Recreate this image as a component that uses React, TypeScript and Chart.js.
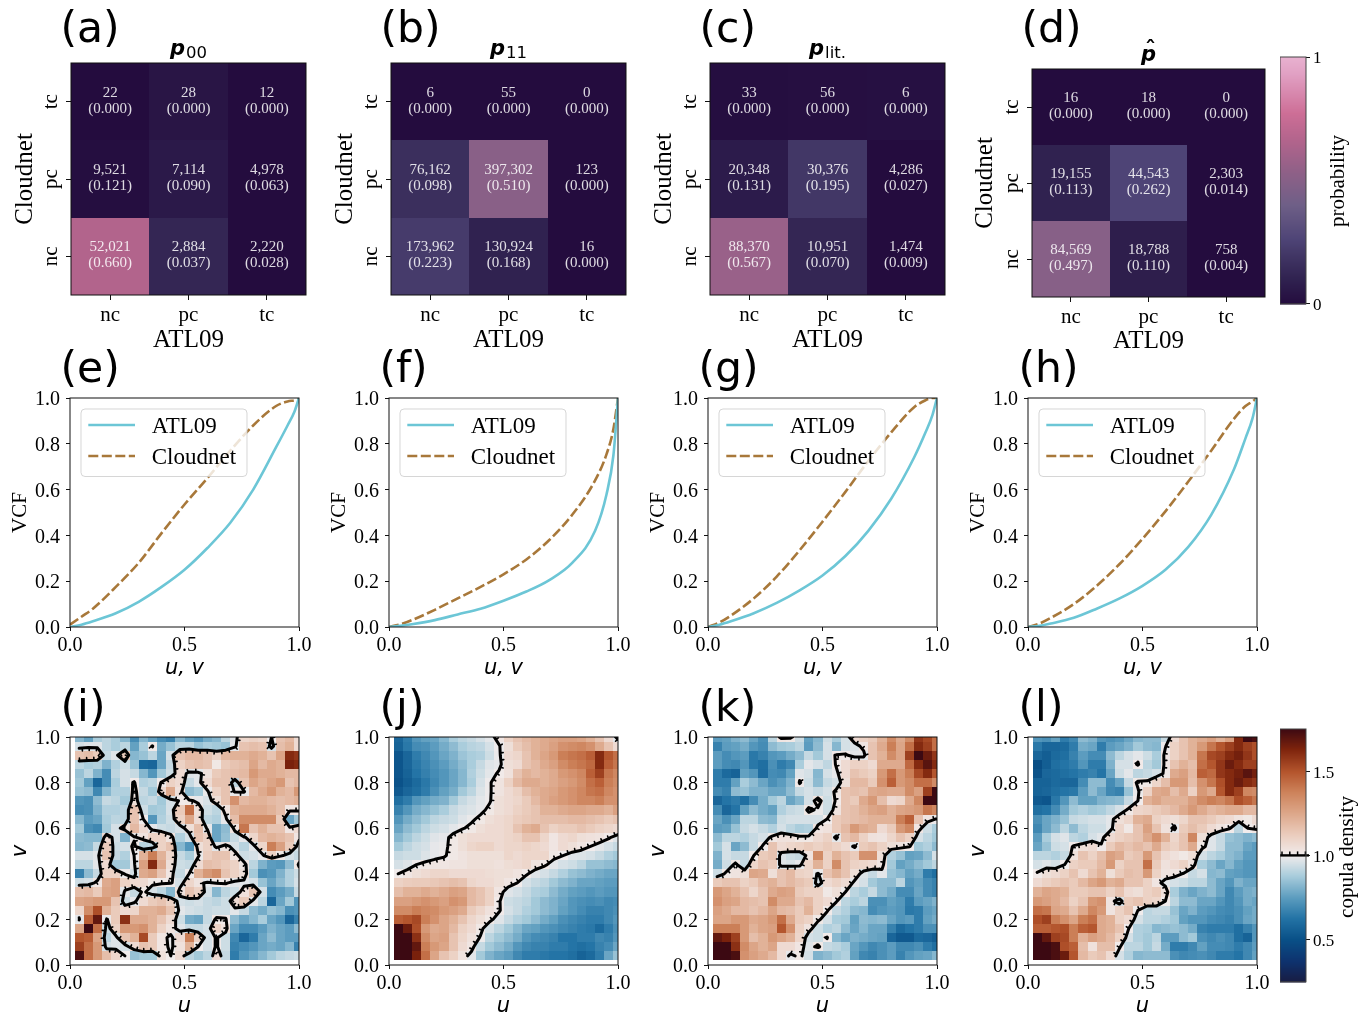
import React, { useEffect, useRef } from "react";
import { Chart, registerables } from "chart.js";
Chart.register(...registerables);

const SERIF = '"Liberation Serif"';
const SANS = '"DejaVu Sans"';

// ---------- confusion matrices (rows top to bottom: tc, pc, nc; columns nc, pc, tc)
const CATEGORIES = ["nc", "pc", "tc"];
const countsA = [[22, 28, 12], [9521, 7114, 4978], [52021, 2884, 2220]];
const countsB = [[6, 55, 0], [76162, 397302, 123], [173962, 130924, 16]];
const countsC = [[33, 56, 6], [20348, 30376, 4286], [88370, 10951, 1474]];
const countsD = [[16, 18, 0], [19155, 44543, 2303], [84569, 18788, 758]];
const probsA = [[0, 0, 0], [0.121, 0.09, 0.063], [0.66, 0.037, 0.028]];
const probsB = [[0, 0, 0], [0.098, 0.51, 0], [0.223, 0.168, 0]];
const probsC = [[0, 0, 0], [0.131, 0.195, 0.027], [0.567, 0.07, 0.009]];
const probsD = [[0, 0, 0], [0.113, 0.262, 0.014], [0.497, 0.11, 0.004]];
const shadeA = [[0, 0.04, 0], [0.01, 0.06, 0], [0.66, 0.12, 0]];
const shadeB = [[0, 0, 0], [0.16, 0.51, 0], [0.22, 0.1, 0]];
const shadeC = [[0.01, 0.015, 0.02], [0.07, 0.2, 0], [0.57, 0.12, 0]];
const shadeD = [[0, 0, 0], [0.1, 0.26, 0], [0.5, 0.08, 0]];

// ---------- VCF curves
const uGrid = [0, 0.05, 0.1, 0.2, 0.3, 0.4, 0.5, 0.6, 0.7, 0.8, 0.9, 0.95, 0.98, 1];
const vcfAtlE = [0, 0.01, 0.025, 0.06, 0.11, 0.175, 0.25, 0.345, 0.455, 0.6, 0.785, 0.88, 0.94, 1];
const vcfCloudE = [0.01, 0.045, 0.08, 0.175, 0.28, 0.41, 0.535, 0.65, 0.77, 0.88, 0.965, 0.985, 0.99, 0.995];
const vcfAtlF = [0, 0.005, 0.012, 0.03, 0.055, 0.08, 0.115, 0.155, 0.205, 0.28, 0.42, 0.58, 0.75, 1];
const vcfCloudF = [0, 0.012, 0.03, 0.075, 0.125, 0.175, 0.23, 0.295, 0.38, 0.49, 0.64, 0.755, 0.865, 1];
const vcfAtlG = [0, 0.01, 0.025, 0.06, 0.105, 0.16, 0.225, 0.31, 0.42, 0.56, 0.74, 0.85, 0.925, 1];
const vcfCloudG = [0, 0.02, 0.05, 0.125, 0.22, 0.335, 0.46, 0.59, 0.725, 0.85, 0.96, 0.99, 1, 1];
const vcfAtlH = [0, 0.005, 0.015, 0.04, 0.08, 0.125, 0.18, 0.25, 0.35, 0.49, 0.69, 0.825, 0.91, 1];
const vcfCloudH = [0, 0.015, 0.04, 0.1, 0.18, 0.275, 0.385, 0.505, 0.635, 0.77, 0.91, 0.965, 0.985, 1];

// ---------- copula density levels read from the cells (percent-like reading), rows from v=1.0 down to v=0.04, columns u=0.04..1.0
const copulaI = [
  [70,60,80,85,80,70,50,70,60,50,45,70,60,55,65,70,85,95,110,112,110,100,118,122,108],
  [92,95,95,85,80,85,60,80,101,65,75,85,85,75,80,78,75,96,118,120,118,92,120,125,108],
  [118,120,115,88,95,115,70,75,85,62,92,118,122,122,118,112,122,125,125,128,125,118,130,172,168],
  [85,80,82,68,82,90,75,32,30,62,88,112,118,120,118,102,115,118,120,130,122,128,125,175,172],
  [75,85,68,50,85,92,88,70,55,78,90,108,95,96,105,115,118,120,122,135,128,128,125,122,122],
  [78,60,30,50,80,92,101,82,85,101,112,108,88,96,108,118,118,85,118,130,125,130,135,118,122],
  [75,72,48,70,82,82,103,88,78,108,128,105,72,78,98,112,118,98,98,122,128,135,125,122,135],
  [55,52,72,88,85,78,106,85,88,78,92,101,102,97,93,106,118,138,122,125,125,122,120,122,125],
  [50,52,68,82,82,85,118,90,78,80,92,115,150,106,90,85,104,125,128,128,128,125,120,103,102],
  [70,58,62,80,85,85,118,100,55,82,90,112,130,108,85,82,97,120,140,140,140,140,115,62,78],
  [78,52,48,78,92,106,122,108,96,90,88,92,106,120,97,62,72,104,148,118,125,118,118,103,108],
  [72,70,70,108,92,68,98,104,112,112,104,82,92,118,112,62,74,88,97,110,122,125,122,118,103],
  [70,72,88,115,90,92,102,84,86,112,118,70,55,106,112,96,104,93,84,96,110,145,132,115,92],
  [92,92,96,118,88,82,100,125,145,125,110,88,80,98,114,118,118,104,90,92,97,112,102,92,88],
  [85,85,96,108,78,78,97,132,172,128,106,90,88,108,120,118,115,112,103,85,68,58,56,72,102],
  [45,72,88,112,112,99,92,128,132,118,103,88,100,125,135,140,118,112,106,78,52,56,68,82,90],
  [90,92,103,128,132,112,108,108,102,101,101,92,110,104,96,101,101,96,96,92,75,62,72,82,92],
  [120,122,115,130,132,96,88,102,92,85,70,105,118,112,92,70,85,90,105,118,92,50,58,65,88],
  [130,132,135,135,118,90,97,108,115,118,112,92,90,92,88,85,90,108,115,96,85,30,62,78,55],
  [110,140,160,125,115,108,110,125,125,128,118,96,92,90,88,90,90,96,88,72,65,75,70,52,55],
  [97,155,180,98,115,170,128,128,125,118,108,90,65,62,88,102,101,72,62,70,80,62,55,30,45],
  [130,190,150,90,112,135,135,138,125,112,104,95,88,88,92,112,105,62,50,50,58,68,62,58,72],
  [158,155,130,85,95,118,125,162,115,103,97,108,145,112,92,101,90,48,30,42,62,72,62,58,58],
  [165,150,135,92,95,92,108,118,115,103,98,105,125,100,92,101,90,45,50,55,62,65,62,70,45],
  [185,150,135,120,110,100,75,78,78,105,100,108,85,78,85,108,88,42,55,62,70,78,85,88,90],
];
const copulaJ = [
  [30,42,55,60,62,70,80,85,88,92,96,103,112,118,122,125,128,130,132,132,130,125,118,108,96],
  [28,40,50,52,58,65,72,80,84,86,92,99,106,115,120,125,128,132,138,140,142,138,128,118,108],
  [20,30,42,48,55,62,68,76,80,82,90,98,108,110,118,125,130,135,145,148,150,155,172,158,150],
  [20,30,40,46,52,58,65,72,80,88,95,97,106,108,118,122,128,132,140,145,148,152,172,155,148],
  [20,28,38,44,50,55,62,70,82,90,96,101,105,118,125,122,125,128,135,138,142,155,165,148,142],
  [18,25,32,40,48,55,62,70,80,92,99,104,112,122,128,128,125,128,132,135,140,150,155,145,140],
  [22,30,35,42,52,60,66,78,85,94,99,104,108,112,120,125,128,130,135,138,142,148,150,142,138],
  [35,42,55,60,65,68,78,88,92,96,99,106,108,110,115,122,128,132,135,138,142,142,145,138,138],
  [45,55,65,70,75,80,88,92,94,97,102,106,108,112,115,118,125,125,128,130,130,128,128,125,132],
  [55,65,72,78,85,88,90,95,98,102,106,108,110,114,116,118,120,120,120,122,122,120,118,115,118],
  [62,72,78,85,90,92,96,99,102,106,108,108,110,118,125,128,118,112,115,115,118,115,112,110,108],
  [70,78,85,90,95,97,102,106,108,108,108,108,110,112,118,118,110,103,108,110,106,105,104,101,95],
  [78,85,90,92,97,98,102,106,110,112,112,108,110,110,112,110,108,103,108,106,103,100,96,92,88],
  [88,90,90,94,97,99,102,104,106,106,106,106,110,108,110,110,110,102,100,95,94,92,88,82,78],
  [92,95,100,102,103,103,104,104,106,106,106,105,107,108,110,104,101,96,92,90,85,75,75,72,70],
  [100,103,106,108,110,110,108,108,108,108,107,106,106,104,101,95,92,88,82,75,72,68,65,62,62],
  [112,114,115,115,116,118,120,118,110,108,108,106,103,100,92,88,85,78,72,68,62,62,60,58,58],
  [120,125,125,128,125,128,132,130,122,118,112,103,95,92,88,82,80,72,65,60,58,55,58,55,55],
  [132,132,135,138,135,132,138,135,122,118,112,101,90,88,85,78,72,68,62,55,52,50,52,48,50],
  [140,140,145,142,140,135,132,128,115,110,105,101,92,88,82,78,72,68,60,55,50,45,45,48,52],
  [155,158,162,145,138,130,125,118,110,106,102,95,88,82,78,72,65,60,52,48,45,42,42,48,55],
  [195,178,160,135,128,130,122,112,108,102,92,85,78,70,62,60,55,52,48,45,42,40,32,42,52],
  [225,205,170,140,130,132,118,110,105,99,85,78,72,65,55,50,48,45,38,38,42,42,48,45,55],
  [240,215,180,145,135,130,118,108,103,88,78,72,65,55,48,45,45,42,42,38,35,38,45,50,62],
  [250,235,175,150,130,118,112,104,96,78,68,62,58,48,42,42,40,38,38,35,28,32,42,62,75],
];
const copulaK = [
  [58,60,68,72,62,52,85,103,102,90,60,70,90,80,92,108,112,115,125,140,128,140,168,162,150],
  [45,58,60,65,55,50,72,78,80,85,58,72,92,70,92,94,103,118,128,145,130,150,172,165,150],
  [58,50,55,58,40,45,55,58,65,72,88,78,92,101,101,96,96,118,125,140,130,165,190,178,168],
  [58,50,48,55,40,35,52,42,48,80,96,92,86,101,108,112,112,108,128,128,128,152,172,182,172],
  [42,32,28,60,55,34,50,48,60,95,92,70,92,97,108,118,115,112,135,150,135,145,162,172,158],
  [42,42,60,80,72,62,52,58,68,101,90,72,88,92,106,122,122,115,138,155,135,140,150,150,140],
  [50,45,72,75,68,68,62,62,72,88,92,88,92,102,118,120,118,128,130,128,128,140,132,165,225],
  [30,38,42,35,50,65,78,85,62,70,92,104,90,101,118,115,128,135,120,108,110,128,142,188,225],
  [50,30,38,60,72,65,60,82,88,90,102,98,90,104,118,120,125,130,132,125,130,132,135,148,142],
  [62,52,62,85,85,72,70,90,92,92,92,92,100,115,118,120,122,125,125,125,145,155,118,103,99],
  [58,60,75,88,92,88,82,92,85,80,82,103,105,115,122,135,128,125,108,115,135,142,103,90,80],
  [72,85,85,82,88,92,102,105,105,102,102,108,112,96,118,122,112,105,104,110,118,112,92,85,78],
  [78,92,62,72,88,101,118,108,110,112,115,112,115,112,108,97,115,118,112,106,104,101,78,82,72],
  [68,92,88,88,100,115,118,94,90,88,104,140,112,125,118,115,138,138,106,82,75,60,62,72,92],
  [65,90,102,88,110,118,115,95,93,97,110,125,112,140,118,112,110,108,103,78,60,65,72,78,85],
  [90,102,104,106,130,128,106,118,122,112,110,98,118,125,118,106,94,88,96,75,70,60,65,42,35],
  [115,118,118,112,115,122,125,118,122,118,115,92,108,112,108,97,92,78,72,72,85,55,60,50,45],
  [135,130,125,118,110,118,128,132,130,115,112,112,102,106,100,85,80,88,72,65,50,50,62,50,45],
  [138,132,130,122,120,118,140,128,128,118,122,112,108,101,85,80,85,52,52,60,56,42,58,62,68],
  [132,128,122,122,118,122,130,122,120,115,125,112,101,88,82,72,70,50,55,58,55,40,42,58,62],
  [130,130,135,135,128,130,135,150,128,115,112,102,92,80,78,60,72,70,72,62,55,58,42,60,65],
  [145,145,145,135,125,130,132,158,138,112,104,90,82,85,72,62,70,62,62,45,32,38,42,52,52],
  [180,175,165,135,120,125,135,130,125,110,92,90,101,70,62,68,65,62,60,30,22,22,32,30,25],
  [198,190,170,140,130,125,130,108,108,103,95,102,88,85,80,62,55,48,52,58,48,48,52,42,35],
  [235,225,185,138,132,128,122,108,97,102,92,68,72,78,82,60,48,45,52,58,45,55,60,62,70],
];
const copulaL = [
  [55,52,60,42,48,72,68,55,52,55,62,70,72,72,88,108,118,125,128,132,125,132,172,190,185],
  [40,30,30,32,42,65,62,42,58,62,68,78,72,70,99,112,118,125,135,148,158,165,172,165,160],
  [30,25,32,35,45,58,50,50,72,85,92,96,90,80,103,112,118,125,148,162,165,172,176,168,160],
  [15,25,35,38,42,55,42,42,68,92,92,101,85,78,103,118,125,120,150,158,168,178,172,165,165],
  [18,30,32,35,38,42,45,38,62,90,96,85,88,92,102,128,132,122,155,152,168,172,176,182,176],
  [28,28,32,30,30,50,72,72,50,62,88,102,102,110,120,135,135,120,138,148,160,172,178,172,168],
  [28,30,35,38,40,58,72,62,48,45,75,98,112,128,130,120,128,112,135,128,158,172,165,142,140],
  [22,20,40,55,72,60,60,68,70,72,88,100,125,130,125,125,125,132,140,145,142,148,160,155,148],
  [35,38,50,65,78,82,78,80,86,92,102,110,112,115,118,122,128,135,128,122,125,128,128,122,122],
  [52,62,68,75,88,90,92,92,96,106,110,125,128,112,108,106,110,118,118,115,110,108,104,102,108],
  [48,62,72,85,72,85,90,90,96,110,102,118,132,118,105,97,115,120,115,108,104,101,85,100,103],
  [58,80,92,95,85,82,92,96,108,112,115,118,128,138,125,110,118,142,106,95,88,75,72,68,72],
  [62,75,90,92,101,106,108,101,115,122,118,122,118,128,115,112,118,128,102,95,88,72,72,62,58],
  [85,85,82,88,105,118,112,120,132,128,115,118,135,118,108,105,102,106,92,85,80,72,68,58,58],
  [92,95,92,100,112,115,115,122,135,112,118,118,150,115,105,108,112,104,80,72,62,70,60,55,55],
  [101,106,108,112,118,108,118,125,106,115,120,118,135,112,104,103,99,88,92,70,72,60,58,55,55],
  [108,112,115,118,115,122,130,135,125,128,118,118,112,103,96,92,90,85,85,72,62,55,68,62,62],
  [125,130,128,125,115,115,118,118,112,118,108,106,112,115,105,80,68,62,68,72,62,48,58,65,68],
  [135,132,128,122,112,118,135,138,104,92,115,118,112,110,100,85,72,72,62,62,55,48,55,65,62],
  [150,148,130,128,118,128,142,135,104,112,118,100,85,88,88,75,62,68,58,55,50,48,52,60,65],
  [160,165,145,138,130,145,150,128,125,112,108,92,85,85,82,78,60,55,55,50,48,45,52,62,65],
  [155,155,158,160,145,155,158,128,125,118,100,82,80,70,72,75,72,65,45,42,42,42,35,45,55],
  [190,180,165,162,145,125,132,128,122,112,92,82,78,85,58,58,72,78,52,48,52,48,35,28,55],
  [238,232,185,160,155,120,105,120,120,101,85,85,78,88,65,42,42,48,60,50,50,48,42,48,58],
  [240,240,185,178,158,122,115,118,108,92,82,70,72,72,72,52,48,50,52,48,42,42,38,48,60],
];

const READ_GAIN_LOW = 0.6;
const READ_GAIN_HIGH = 0.85;
const toDensity = (x: number) =>
  x < 100 ? 1 - ((100 - x) / 100) * READ_GAIN_LOW : 1 + ((x - 100) / 100) * READ_GAIN_HIGH;

const COPULA_STEP = 0.04;
const COPULA_TICKS = [0.5, 1.0, 1.5];
const PROB_TICKS = [0, 1];
const VCF_TICKS = [0, 0.2, 0.4, 0.6, 0.8, 1];
const U_TICKS = [0, 0.5, 1];
const LEGEND_NAMES = ["ATL09", "Cloudnet"];
const TEAL = "#6cc6d6";
const BROWN = "#a8783a";

// ---------- colormaps
type Stop = [number, number, number, number];
const BALANCE: Stop[] = [
  [0, 24, 28, 67], [0.08, 14, 50, 110], [0.167, 9, 80, 135], [0.25, 35, 115, 165], [0.33, 90, 155, 190],
  [0.42, 170, 205, 220], [0.5, 241, 236, 236], [0.58, 235, 205, 190], [0.67, 220, 165, 135],
  [0.75, 205, 130, 90], [0.83, 180, 85, 45], [0.92, 125, 35, 12], [1, 60, 9, 18],
];
const PROBMAP: Stop[] = [
  [0, 36, 12, 62], [0.1, 48, 34, 80], [0.2, 66, 55, 102], [0.26, 78, 68, 118], [0.4, 110, 95, 135],
  [0.53, 142, 96, 135], [0.66, 178, 100, 140], [0.77, 205, 110, 150], [0.93, 225, 160, 195], [1, 232, 178, 208],
];
function ramp(stops: Stop[], t: number) {
  const x = Math.max(0, Math.min(1, t));
  for (let i = 1; i < stops.length; i++) {
    if (x <= stops[i][0]) {
      const a = stops[i - 1], b = stops[i];
      const f = (x - a[0]) / (b[0] - a[0]);
      return `rgb(${[1, 2, 3].map((k) => Math.round(a[k] + (b[k] - a[k]) * f)).join(",")})`;
    }
  }
  const l = stops[stops.length - 1];
  return `rgb(${l[1]},${l[2]},${l[3]})`;
}
const balance = (d: number) => ramp(BALANCE, (d - 0.25) / 1.5);

// ---------- contouring
type Pt = { u: number; v: number };
function contourLines(G: number[][]): Pt[][] {
  const n = G.length, m = G[0].length;
  const pts = new Map<string, Pt>();
  const adj = new Map<string, string[]>();
  const hPt = (r: number, c: number) => {
    const k = `h${r},${c}`;
    if (!pts.has(k)) {
      const a = G[r][c], b = G[r][c + 1];
      pts.set(k, { u: COPULA_STEP * (c + 1 + (1 - a) / (b - a)), v: 1 - COPULA_STEP * r });
    }
    return k;
  };
  const vPt = (r: number, c: number) => {
    const k = `v${r},${c}`;
    if (!pts.has(k)) {
      const a = G[r][c], b = G[r + 1][c];
      pts.set(k, { u: COPULA_STEP * (c + 1), v: 1 - COPULA_STEP * (r + (1 - a) / (b - a)) });
    }
    return k;
  };
  const link = (a: string, b: string) => {
    if (!adj.has(a)) adj.set(a, []);
    if (!adj.has(b)) adj.set(b, []);
    adj.get(a)!.push(b);
    adj.get(b)!.push(a);
  };
  for (let r = 0; r < n - 1; r++) {
    for (let c = 0; c < m - 1; c++) {
      const a = G[r][c], b = G[r][c + 1], d = G[r + 1][c + 1], e = G[r + 1][c];
      const idx = (a >= 1 ? 8 : 0) + (b >= 1 ? 4 : 0) + (d >= 1 ? 2 : 0) + (e >= 1 ? 1 : 0);
      if (idx === 0 || idx === 15) continue;
      const T = () => hPt(r, c), R = () => vPt(r, c + 1), B = () => hPt(r + 1, c), L = () => vPt(r, c);
      const mid = (a + b + d + e) / 4 >= 1;
      switch (idx) {
        case 1: case 14: link(L(), B()); break;
        case 2: case 13: link(B(), R()); break;
        case 3: case 12: link(L(), R()); break;
        case 4: case 11: link(T(), R()); break;
        case 6: case 9: link(T(), B()); break;
        case 7: case 8: link(L(), T()); break;
        case 5:
          if (mid) { link(L(), T()); link(B(), R()); } else { link(L(), B()); link(T(), R()); }
          break;
        case 10:
          if (mid) { link(T(), R()); link(L(), B()); } else { link(L(), T()); link(R(), B()); }
          break;
      }
    }
  }
  const used = new Set<string>();
  const lines: Pt[][] = [];
  const walk = (start: string) => {
    const line = [pts.get(start)!];
    used.add(start);
    let cur = start;
    for (;;) {
      const next = adj.get(cur)!.find((k) => !used.has(k));
      if (!next) break;
      used.add(next);
      line.push(pts.get(next)!);
      cur = next;
    }
    const first = adj.get(start)!;
    if (line.length > 2 && first.length === 2 && first.some((k) => pts.get(k) === line[line.length - 1])) line.push(line[0]);
    lines.push(line);
  };
  for (const [k, nb] of adj) if (nb.length === 1 && !used.has(k)) walk(k);
  for (const k of adj.keys()) if (!used.has(k)) walk(k);
  return lines;
}
function sampleGrid(G: number[][], u: number, v: number) {
  const cf = Math.max(0, Math.min(G[0].length - 1.001, u / COPULA_STEP - 1));
  const rf = Math.max(0, Math.min(G.length - 1.001, (1 - v) / COPULA_STEP));
  const c = Math.floor(cf), r = Math.floor(rf), x = cf - c, y = rf - r;
  return (G[r][c] * (1 - x) + G[r][c + 1] * x) * (1 - y) + (G[r + 1][c] * (1 - x) + G[r + 1][c + 1] * x) * y;
}

// ---------- chart helpers
const font = (size: number, family = SERIF, extra: any = {}) => ({ size, family, lineHeight: 1.2, ...extra });

function text(ctx: any, s: string, x: number, y: number, f: string, align: any = "center", base: any = "alphabetic", color = "#000") {
  ctx.save();
  ctx.font = f;
  ctx.fillStyle = color;
  ctx.textAlign = align;
  ctx.textBaseline = base;
  ctx.fillText(s, x, y);
  ctx.restore();
}
function rotatedText(ctx: any, s: string, x: number, y: number, f: string) {
  ctx.save();
  ctx.translate(x, y);
  ctx.rotate(-Math.PI / 2);
  ctx.font = f;
  ctx.fillStyle = "#000";
  ctx.textAlign = "center";
  ctx.textBaseline = "middle";
  ctx.fillText(s, 0, 0);
  ctx.restore();
}
function spines(chart: any, color = "#111", w = 1) {
  const { left, right, top, bottom } = chart.chartArea;
  const ctx = chart.ctx;
  ctx.save();
  ctx.strokeStyle = color;
  ctx.lineWidth = w;
  ctx.strokeRect(left, top, right - left, bottom - top);
  ctx.restore();
}
function axis(o: any) {
  return {
    type: "linear",
    min: o.min,
    max: o.max,
    position: o.position,
    display: o.display ?? true,
    afterFit: (s: any) => {
      if (o.width !== undefined) s.width = o.width;
      if (o.height !== undefined) s.height = o.height;
    },
    afterBuildTicks: (s: any) => {
      s.ticks = o.ticks.map((value: number) => ({ value }));
    },
    border: { display: false },
    grid: { drawOnChartArea: false, drawTicks: true, tickLength: o.tickLength ?? 4, color: "#111", lineWidth: 1 },
    ticks: {
      display: o.showLabels ?? true,
      autoSkip: false,
      minRotation: 0,
      maxRotation: 0,
      padding: o.padding ?? 3,
      labelOffset: o.labelOffset ?? 0,
      color: "#000",
      font: font(o.size ?? 20),
      callback: o.format,
    },
    title: o.title
      ? { display: true, text: o.title, padding: 0, color: "#000", font: { ...o.titleFont, lineHeight: 1 } }
      : { display: false },
  };
}
type Box = { l: number; t: number; r: number; b: number; mL: number; mT: number; mR: number; mB: number };
type Spec = { box: Box; build: () => any };
const baseOptions = (box: Box, hiddenX = false) => ({
  responsive: false,
  animation: false,
  devicePixelRatio: 1,
  layout: { autoPadding: false, padding: { left: hiddenX ? box.mL : 0, top: box.mT, right: hiddenX ? 0 : box.mR, bottom: hiddenX ? box.mB : 0 } },
  plugins: { legend: { display: false }, tooltip: { enabled: false }, title: { display: false } },
});
const toCanvas = (box: Box) => ({ x: (px: number) => px - (box.l - box.mL), y: (py: number) => py - (box.t - box.mT) });

// ---------- heat panels
function heatSpec(letter: string, counts: number[][], probs: number[][], shade: number[][], drawTitle: (ctx: any, cx: number, box: Box) => void, box: Box): Spec {
  const cellData = counts.flatMap((row, r) => row.map((n, c) => ({ x: c, y: 2 - r, n, p: probs[r][c], s: shade[r][c] })));
  const fmtCat = (v: any) => CATEGORIES[Number(v)];
  return {
    box,
    build: () => ({
      type: "scatter",
      data: { datasets: [{ data: cellData, pointRadius: 0 }] },
      options: {
        ...baseOptions(box),
        scales: {
          x: axis({ min: -0.5, max: 2.5, ticks: [0, 1, 2], format: fmtCat, size: 21, padding: 3, tickLength: 5, height: box.mB, title: "ATL09", titleFont: font(25) }),
          y: axis({ min: -0.5, max: 2.5, ticks: [0, 1, 2], format: fmtCat, showLabels: false, tickLength: 5, width: box.mL, title: "Cloudnet", titleFont: font(25) }),
        },
      },
      plugins: [
        {
          id: "heat",
          beforeDatasetsDraw(chart: any) {
            const { ctx, scales } = chart;
            for (const d of chart.data.datasets[0].data) {
              const x0 = Math.round(scales.x.getPixelForValue(d.x - 0.5)), x1 = Math.round(scales.x.getPixelForValue(d.x + 0.5));
              const y0 = Math.round(scales.y.getPixelForValue(d.y + 0.5)), y1 = Math.round(scales.y.getPixelForValue(d.y - 0.5));
              ctx.fillStyle = ramp(PROBMAP, d.s);
              ctx.fillRect(x0, y0, x1 - x0, y1 - y0);
            }
          },
          afterDraw(chart: any) {
            const { ctx, scales } = chart;
            spines(chart);
            const f = `15px ${SERIF}`;
            const col = "rgba(255,255,255,0.85)";
            for (const d of chart.data.datasets[0].data) {
              const px = scales.x.getPixelForValue(d.x), py = scales.y.getPixelForValue(d.y);
              text(ctx, d.n.toLocaleString("en-US"), px, py - 9, f, "center", "middle", col);
              text(ctx, `(${d.p.toFixed(3)})`, px, py + 7, f, "center", "middle", col);
            }
            [0, 1, 2].forEach((v) => rotatedText(ctx, CATEGORIES[v], chart.chartArea.left - 20, scales.y.getPixelForValue(v), `21px ${SERIF}`));
            const C = toCanvas(box);
            text(ctx, letter, C.x(box.l - 10.5), C.y(42), `42.5px ${SANS}`, "left");
            drawTitle(ctx, (chart.chartArea.left + chart.chartArea.right) / 2, box);
          },
        },
      ],
    }),
  };
}
const subTitle = (sub: string) => (ctx: any, cx: number, box: Box) => {
  const C = toCanvas(box);
  ctx.save();
  const pf = `italic bold 21px ${SANS}`, sf = `16.5px ${SANS}`;
  ctx.font = pf;
  const pw = ctx.measureText("p").width;
  ctx.font = sf;
  const sw = ctx.measureText(sub).width;
  ctx.restore();
  const x0 = cx - (pw + sw + 1) / 2;
  text(ctx, "p", x0, C.y(55), pf, "left");
  text(ctx, sub, x0 + pw + 1, C.y(58), sf, "left");
};
const hatTitle = (ctx: any, cx: number, box: Box) => {
  const C = toCanvas(box);
  text(ctx, "p", cx, C.y(61), `italic bold 21px ${SANS}`);
  text(ctx, "\u02C6", cx + 2, C.y(56), `bold 22px ${SANS}`);
};

// ---------- VCF panels
function vcfSpec(letter: string, atl: number[], cloud: number[], box: Box): Spec {
  return {
    box,
    build: () => ({
      type: "scatter",
      data: {
        datasets: [
          { label: LEGEND_NAMES[0], data: uGrid.map((x, i) => ({ x, y: atl[i] })), showLine: true, pointRadius: 0, borderColor: TEAL, borderWidth: 2.6, cubicInterpolationMode: "monotone" },
          { label: LEGEND_NAMES[1], data: uGrid.map((x, i) => ({ x, y: cloud[i] })), showLine: true, pointRadius: 0, borderColor: BROWN, borderWidth: 2.6, borderDash: [10, 3.5], cubicInterpolationMode: "monotone" },
        ],
      },
      options: {
        ...baseOptions(box),
        scales: {
          x: axis({ min: 0, max: 1, ticks: U_TICKS, format: (v: any) => Number(v).toFixed(1), padding: 3, height: box.mB, title: "u, v", titleFont: font(21, SANS, { style: "italic" }) }),
          y: axis({ min: 0, max: 1, ticks: VCF_TICKS, format: (v: any) => Number(v).toFixed(1), padding: 6, labelOffset: 2, width: box.mL, title: "VCF", titleFont: font(21) }),
        },
      },
      plugins: [
        {
          id: "vcfDecor",
          afterDatasetsDraw(chart: any) {
            const { ctx, chartArea: a } = chart;
            ctx.save();
            ctx.beginPath();
            ctx.roundRect(a.left + 11, a.top + 11, 166, 67.5, 4);
            ctx.fillStyle = "rgba(255,255,255,0.8)";
            ctx.fill();
            ctx.strokeStyle = "rgba(204,204,204,0.8)";
            ctx.lineWidth = 1;
            ctx.stroke();
            [27, 58].forEach((dy, i) => {
              ctx.beginPath();
              ctx.strokeStyle = i ? BROWN : TEAL;
              ctx.lineWidth = 2.6;
              ctx.setLineDash(i ? [10, 3.5] : []);
              ctx.moveTo(a.left + 18.3, a.top + dy);
              ctx.lineTo(a.left + 65, a.top + dy);
              ctx.stroke();
              ctx.setLineDash([]);
              text(ctx, chart.data.datasets[i].label, a.left + 81.7, a.top + dy + 2, `23px ${SERIF}`, "left", "middle");
            });
            ctx.restore();
          },
          afterDraw(chart: any) {
            spines(chart);
            const C = toCanvas(box);
            text(chart.ctx, letter, C.x(box.l - 9.5), C.y(382), `42.5px ${SANS}`, "left");
          },
        },
      ],
    }),
  };
}

// ---------- copula panels
function copulaSpec(letter: string, readings: number[][], box: Box): Spec {
  const G = readings.map((row) => row.map(toDensity));
  const cells = G.flatMap((row, r) => row.map((v, c) => ({ x: COPULA_STEP * (c + 1), y: 1 - COPULA_STEP * r, v })));
  const lines = contourLines(G);
  return {
    box,
    build: () => ({
      type: "scatter",
      data: { datasets: [{ data: cells, pointRadius: 0 }] },
      options: {
        ...baseOptions(box),
        scales: {
          x: axis({ min: 0, max: 1, ticks: U_TICKS, format: (v: any) => Number(v).toFixed(1), padding: 3, height: box.mB, title: "u", titleFont: font(21, SANS, { style: "italic" }) }),
          y: axis({ min: 0, max: 1, ticks: VCF_TICKS, format: (v: any) => Number(v).toFixed(1), padding: 6, labelOffset: 2, width: box.mL, title: "v", titleFont: font(21, SANS, { style: "italic" }) }),
        },
      },
      plugins: [
        {
          id: "copula",
          beforeDatasetsDraw(chart: any) {
            const { ctx, scales, chartArea: a } = chart;
            const hw = COPULA_STEP / 2;
            ctx.save();
            ctx.beginPath();
            ctx.rect(a.left, a.top, a.right - a.left, a.bottom - a.top);
            ctx.clip();
            for (const d of chart.data.datasets[0].data) {
              const x0 = Math.round(scales.x.getPixelForValue(d.x - hw)), x1 = Math.round(scales.x.getPixelForValue(d.x + hw));
              const y0 = Math.round(scales.y.getPixelForValue(d.y + hw)), y1 = Math.round(scales.y.getPixelForValue(d.y - hw));
              ctx.fillStyle = balance(d.v);
              ctx.fillRect(x0, y0, x1 - x0, y1 - y0);
            }
            ctx.strokeStyle = "#000";
            ctx.lineJoin = "round";
            ctx.lineCap = "round";
            for (const line of lines) {
              const px = line.map((p) => ({ x: scales.x.getPixelForValue(p.u), y: scales.y.getPixelForValue(p.v) }));
              ctx.lineWidth = 3;
              ctx.beginPath();
              px.forEach((p, i) => (i ? ctx.lineTo(p.x, p.y) : ctx.moveTo(p.x, p.y)));
              ctx.stroke();
              ctx.lineWidth = 1.6;
              let next = 3;
              let run = 0;
              for (let i = 1; i < px.length; i++) {
                const dx = px[i].x - px[i - 1].x, dy = px[i].y - px[i - 1].y;
                const len = Math.hypot(dx, dy);
                if (!len) continue;
                while (next <= run + len) {
                  const f = (next - run) / len;
                  const x = px[i - 1].x + dx * f, y = px[i - 1].y + dy * f;
                  let nx = -dy / len, ny = dx / len;
                  const s = (k: number) => sampleGrid(G, scales.x.getValueForPixel(x + nx * k), scales.y.getValueForPixel(y + ny * k));
                  if (s(3) < s(-3)) { nx = -nx; ny = -ny; }
                  ctx.beginPath();
                  ctx.moveTo(x, y);
                  ctx.lineTo(x + nx * 3, y + ny * 3);
                  ctx.stroke();
                  next += 7.2;
                }
                run += len;
              }
            }
            ctx.restore();
          },
          afterDraw(chart: any) {
            spines(chart);
            const C = toCanvas(box);
            text(chart.ctx, letter, C.x(box.l - 9.5), C.y(721), `42.5px ${SANS}`, "left");
          },
        },
      ],
    }),
  };
}

// ---------- colour bars
function cbarSpec(box: Box, min: number, max: number, ticks: number[], fmt: (v: number) => string, label: string, labelX: number, labelY: number, paint: (t: number) => string, drawLevel: boolean): Spec {
  return {
    box,
    build: () => ({
      type: "scatter",
      data: { datasets: [{ data: [] }] },
      options: {
        ...baseOptions(box, true),
        scales: {
          x: { type: "linear", display: false, min: 0, max: 1 },
          y: axis({ min, max, ticks, position: "right", format: (v: any) => fmt(Number(v)), size: 17, padding: 3, labelOffset: 2, tickLength: 4, width: box.mR }),
        },
      },
      plugins: [
        {
          id: "cbar",
          beforeDatasetsDraw(chart: any) {
            const { ctx, chartArea: a, scales } = chart;
            const N = a.bottom - a.top;
            for (let i = 0; i < N; i++) {
              ctx.fillStyle = paint(min + ((N - i - 0.5) / N) * (max - min));
              ctx.fillRect(a.left, a.top + i, a.right - a.left, 1.5);
            }
            if (drawLevel) {
              const y = scales.y.getPixelForValue(1);
              ctx.save();
              ctx.strokeStyle = "#000";
              ctx.lineWidth = 2.4;
              ctx.beginPath();
              ctx.moveTo(a.left, y);
              ctx.lineTo(a.right + 3, y);
              ctx.stroke();
              ctx.lineWidth = 1.5;
              for (let x = a.left + 2; x < a.right; x += 7.8) {
                ctx.beginPath();
                ctx.moveTo(x, y);
                ctx.lineTo(x, y - 4);
                ctx.stroke();
              }
              ctx.restore();
            }
          },
          afterDraw(chart: any) {
            spines(chart, "#444", 1);
            const C = toCanvas(box);
            rotatedText(chart.ctx, label, C.x(labelX), C.y(labelY), `21px ${SERIF}`);
          },
        },
      ],
    }),
  };
}

// ---------- layout
const heatBox = (l: number, r: number, t = 63, b = 295, mL = 58, mB = 58): Box => ({ l, r, t, b, mL, mT: t - 3, mR: 20, mB });
const vcfBox = (l: number): Box => ({ l, r: l + 229, t: 398, b: 627, mL: 60, mT: 50, mR: 24, mB: 52 });
const copBox = (l: number): Box => ({ l, r: l + 229, t: 737, b: 965, mL: 60, mT: 50, mR: 24, mB: 52 });

const SPECS: Spec[] = [
  heatSpec("(a)", countsA, probsA, shadeA, subTitle("00"), heatBox(71, 306)),
  heatSpec("(b)", countsB, probsB, shadeB, subTitle("11"), heatBox(391, 626)),
  heatSpec("(c)", countsC, probsC, shadeC, subTitle("lit."), heatBox(710, 945)),
  heatSpec("(d)", countsD, probsD, shadeD, hatTitle, heatBox(1032, 1265, 69, 297, 59, 57)),
  cbarSpec({ l: 1280, r: 1306, t: 57, b: 305, mL: 0, mT: 15, mR: 62, mB: 12 }, 0, 1, PROB_TICKS, (v) => String(v), "probability", 1338, 181, (t) => ramp(PROBMAP, t), false),
  vcfSpec("(e)", vcfAtlE, vcfCloudE, vcfBox(70)),
  vcfSpec("(f)", vcfAtlF, vcfCloudF, vcfBox(389)),
  vcfSpec("(g)", vcfAtlG, vcfCloudG, vcfBox(708)),
  vcfSpec("(h)", vcfAtlH, vcfCloudH, vcfBox(1028)),
  copulaSpec("(i)", copulaI, copBox(70)),
  copulaSpec("(j)", copulaJ, copBox(389)),
  copulaSpec("(k)", copulaK, copBox(708)),
  copulaSpec("(l)", copulaL, copBox(1028)),
  cbarSpec({ l: 1280, r: 1306, t: 729, b: 983, mL: 0, mT: 15, mR: 72, mB: 12 }, 0.25, 1.75, COPULA_TICKS, (v) => v.toFixed(1), "copula density", 1347, 857, balance, true),
];

export default function App() {
  const refs = useRef<(HTMLCanvasElement | null)[]>([]);
  useEffect(() => {
    const charts = SPECS.map((spec, i) => new Chart(refs.current[i] as any, spec.build()));
    return () => charts.forEach((c) => c.destroy());
  }, []);
  return (
    <div style={{ position: "absolute", left: 0, top: 0, width: 1368, height: 1013, overflow: "hidden", background: "#fff" }}>
      {SPECS.map(({ box }, i) => {
        const w = box.r - box.l + box.mL + box.mR;
        const h = box.b - box.t + box.mT + box.mB;
        return (
          <canvas
            key={i}
            ref={(el) => {
              refs.current[i] = el;
            }}
            width={w}
            height={h}
            style={{ position: "absolute", left: box.l - box.mL, top: box.t - box.mT, width: w, height: h }}
          />
        );
      })}
    </div>
  );
}
